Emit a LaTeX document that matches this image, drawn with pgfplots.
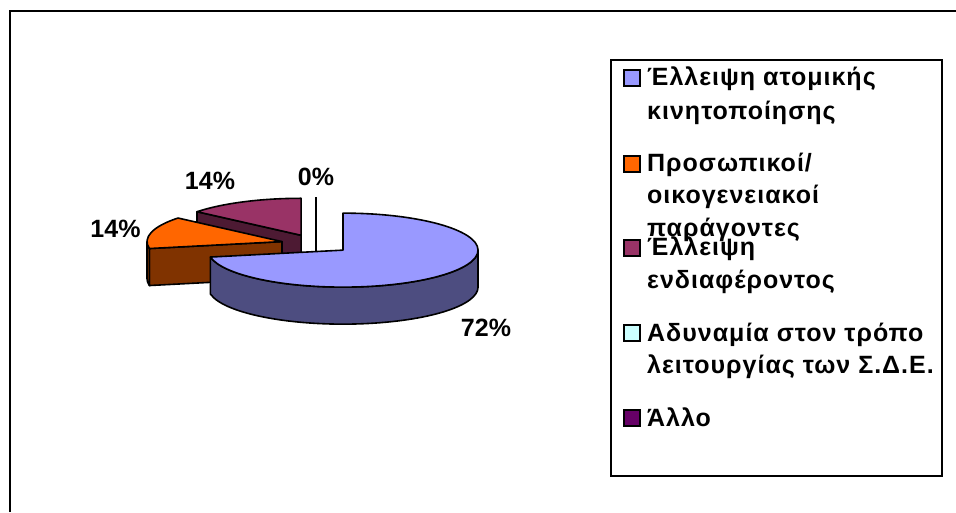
\documentclass[border=0pt]{standalone}
\usepackage{fontspec}
\setmainfont{Liberation Sans}
\newfontfamily\legendfont{Liberation Sans}[LetterSpace=4]
\usepackage{pgfplots}
\usepackage{pgfplotstable}
\pgfplotsset{compat=1.18}

\definecolor{sliceA}{HTML}{9999FF}
\definecolor{sliceAside}{HTML}{4D4D80}
\definecolor{sliceB}{HTML}{FF6600}
\definecolor{sliceBside}{HTML}{803300}
\definecolor{sliceC}{HTML}{993366}
\definecolor{sliceCside}{HTML}{4D1A33}
\definecolor{sliceD}{HTML}{CCFFFF}
\definecolor{sliceDside}{HTML}{668080}
\definecolor{sliceE}{HTML}{660066}
\definecolor{sliceEside}{HTML}{330033}

% shares in percent, clockwise from twelve o'clock
\pgfplotstableread{
value
72
14
14
0
0
}\piedata

% pie geometry in axis units (1 unit = 1pt)
\def\cx{316}\def\cy{268}\def\rx{135}\def\ry{37}\def\hh{37}\def\ex{0.26}
\gdef\cum{0}

% angles and exploded vertex of one slice
\newcommand\defslice[1]{%
  \pgfplotstablegetelem{#1}{value}\of\piedata
  \let\va\pgfplotsretval
  \pgfmathsetmacro\aone{90-3.6*\cum}%
  \pgfmathsetmacro\atwo{90-3.6*(\cum+\va)}%
  \pgfmathsetmacro\amid{(\aone+\atwo)/2}%
  \pgfmathsetmacro\vx{\cx+\ex*\rx*cos(\amid)}%
  \pgfmathsetmacro\vy{\cy+\ex*\ry*sin(\amid)}%
  \pgfmathsetmacro\newcum{\cum+\va}%
  \xdef\cum{\newcum}%
  \expandafter\xdef\csname slice#1val\endcsname{\va}%
  \expandafter\xdef\csname slice#1a\endcsname{\aone}%
  \expandafter\xdef\csname slice#1b\endcsname{\atwo}%
  \expandafter\xdef\csname slice#1x\endcsname{\vx}%
  \expandafter\xdef\csname slice#1y\endcsname{\vy}%
}
\defslice{0}\defslice{1}\defslice{2}\defslice{3}\defslice{4}

\tikzset{pieline/.style={draw=black,line width=1.6pt,line join=round}}

% draws the visible faces of one slice: #1 row, #2 top colour, #3 side colour
\newcommand\drawslice[3]{%
  \edef\sa{\csname slice#1a\endcsname}%
  \edef\sb{\csname slice#1b\endcsname}%
  \edef\sx{\csname slice#1x\endcsname}%
  \edef\sy{\csname slice#1y\endcsname}%
  \edef\sv{\csname slice#1val\endcsname}%
  \pgfmathsetmacro\syh{\sy-\hh}%
  \pgfmathsetmacro\pax{\sx+\rx*cos(\sa)}%
  \pgfmathsetmacro\pay{\sy+\ry*sin(\sa)}%
  \pgfmathsetmacro\payh{\pay-\hh}%
  \pgfmathsetmacro\pbx{\sx+\rx*cos(\sb)}%
  \pgfmathsetmacro\pby{\sy+\ry*sin(\sb)}%
  \pgfmathsetmacro\pbyh{\pby-\hh}%
  % cut face on the leading radius
  \pgfmathparse{cos(\sa)<-0.01}%
  \ifdim\pgfmathresult pt>0.5pt
    \edef\tmp{\noexpand\filldraw[pieline,fill=#3] (axis cs:\sx,\sy) -- (axis cs:\pax,\pay) -- (axis cs:\pax,\payh) -- (axis cs:\sx,\syh) -- cycle;}\tmp
  \fi
  % cut face on the trailing radius
  \pgfmathparse{cos(\sb)>0.01}%
  \ifdim\pgfmathresult pt>0.5pt
    \edef\tmp{\noexpand\filldraw[pieline,fill=#3] (axis cs:\sx,\sy) -- (axis cs:\pbx,\pby) -- (axis cs:\pbx,\pbyh) -- (axis cs:\sx,\syh) -- cycle;}\tmp
  \fi
  % rim on the front half
  \pgfmathsetmacro\lo{max(\sb,-180)}%
  \pgfmathsetmacro\hi{min(\sa,0)}%
  \pgfmathparse{\hi-\lo>0.01}%
  \ifdim\pgfmathresult pt>0.5pt
    \pgfmathsetmacro\phx{\sx+\rx*cos(\hi)}%
    \pgfmathsetmacro\phy{\sy+\ry*sin(\hi)}%
    \pgfmathsetmacro\plx{\sx+\rx*cos(\lo)}%
    \pgfmathsetmacro\ply{\sy+\ry*sin(\lo)-\hh}%
    \edef\tmp{\noexpand\filldraw[pieline,fill=#3] (axis cs:\phx,\phy) arc[start angle=\hi,end angle=\lo,x radius=\rx,y radius=\ry] -- (axis cs:\plx,\ply) arc[start angle=\lo,end angle=\hi,x radius=\rx,y radius=\ry] -- cycle;}\tmp
  \fi
  % empty slices show as a single edge
  \pgfmathparse{\sv<0.001}%
  \ifdim\pgfmathresult pt>0.5pt
    \edef\tmp{\noexpand\draw[pieline] (axis cs:\pax,\pay) -- (axis cs:\sx,\syh);}\tmp
  \else
    \edef\tmp{\noexpand\filldraw[pieline,fill=#2] (axis cs:\sx,\sy) -- (axis cs:\pax,\pay) arc[start angle=\sa,end angle=\sb,x radius=\rx,y radius=\ry] -- cycle;}\tmp
  \fi
}

\newcommand\lbl{\fontsize{25}{29}\selectfont\bfseries}
\newcommand\lgd{\legendfont\fontsize{25}{29}\selectfont\bfseries}

\begin{document}
\begin{tikzpicture}
\begin{axis}[
  x=1pt, y=1pt,
  xmin=0, xmax=956, ymin=0, ymax=512,
  hide axis,
]
% chart frame
\draw[line width=2pt] (axis cs:10,0) -- (axis cs:10,500.5) -- (axis cs:956,500.5);

% slices, back to front
\drawslice{2}{sliceC}{sliceCside}
\drawslice{3}{sliceD}{sliceDside}
\drawslice{4}{sliceE}{sliceEside}
\drawslice{1}{sliceB}{sliceBside}
\drawslice{0}{sliceA}{sliceAside}

% percentage labels
\node[font=\lbl,inner sep=0pt] at (axis cs:486,184.5) {\csname slice0val\endcsname\%};
\node[font=\lbl,inner sep=0pt] at (axis cs:115.5,283.5) {\csname slice1val\endcsname\%};
\node[font=\lbl,inner sep=0pt] at (axis cs:210,331) {\csname slice2val\endcsname\%};
\node[font=\lbl,inner sep=0pt] at (axis cs:316,335) {\csname slice3val\endcsname\%};

% legend
\draw[line width=2pt] (axis cs:611,452.3) rectangle (axis cs:941.7,36.5);
\foreach \c/\b in {sliceA/86,sliceB/172,sliceC/256,sliceD/341,sliceE/426}{
  \edef\tmp{\noexpand\filldraw[fill=\c,draw=black,line width=1.4pt] (axis cs:624,{512-\b}) rectangle (axis cs:640,{528-\b});}\tmp
}
\begin{scope}[every node/.style={anchor=base west,inner sep=0pt,font=\lgd}]
\node at (axis cs:647,426) {Έλλειψη ατομικής};
\node at (axis cs:647,392) {κινητοποίησης};
\node at (axis cs:647,340) {Προσωπικοί/};
\node at (axis cs:647,308) {οικογενειακοί};
\node at (axis cs:647,275) {παράγοντες};
\node at (axis cs:647,256) {Έλλειψη};
\node at (axis cs:647,223) {ενδιαφέροντος};
\node at (axis cs:647,171) {Αδυναμία στον τρόπο};
\node at (axis cs:647,139) {λειτουργίας των Σ.Δ.Ε.};
\node at (axis cs:647,86) {Άλλο};
\end{scope}
\end{axis}
\pgfresetboundingbox
\path (current axis.south west) rectangle (current axis.north east);
\end{tikzpicture}
\end{document}
